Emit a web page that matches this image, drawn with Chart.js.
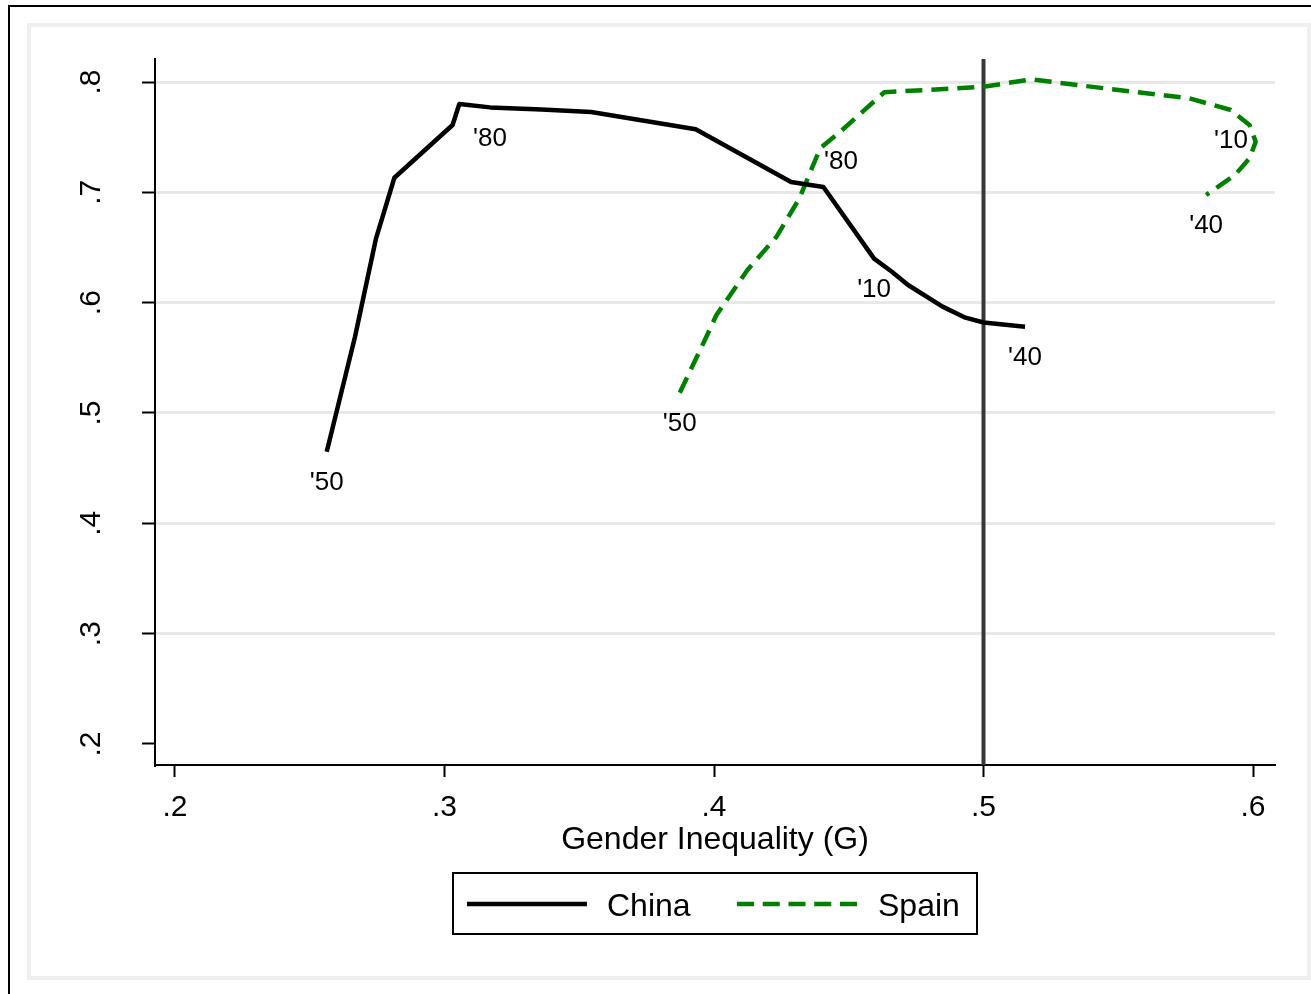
<!DOCTYPE html>
<html>
<head>
<meta charset="utf-8">
<script src="https://cdn.jsdelivr.net/npm/chart.js@4"></script>
<style>
  html, body { margin: 0; padding: 0; background: #fff; }
  #wrap { width: 1311px; height: 994px; }
</style>
</head>
<body>
<div id="wrap"><canvas id="chart" width="1311" height="994"></canvas></div>
<script>
// China path (gender inequality G vs. y)
const chinaG = [0.2563, 0.2668, 0.2746, 0.2814, 0.3030, 0.3055, 0.3169, 0.3360, 0.3544, 0.3932,
  0.4286, 0.4406, 0.4594, 0.4660, 0.4720, 0.4848, 0.4933, 0.5000, 0.5154]
const chinaY = [0.4648, 0.5691, 0.6583, 0.7132, 0.7610, 0.7801, 0.7770, 0.7750, 0.7728, 0.7571,
  0.7093, 0.7048, 0.6399, 0.6280, 0.6160, 0.5964, 0.5864, 0.5820, 0.5782]
const chinaLabelAt = [0, 6, 12, 18]
const chinaLabels = ["'50", "'80", "'10", "'40"]

// Spain path
const spainG = [0.3873, 0.3963, 0.4009, 0.4124, 0.4232, 0.4317, 0.4394, 0.4471, 0.4632, 0.5000,
  0.5177, 0.5377, 0.5764, 0.5918, 0.5987, 0.6010, 0.5987, 0.5933, 0.5826]
const spainY = [0.5183, 0.5646, 0.5888, 0.6296, 0.6598, 0.6946, 0.7399, 0.7555, 0.7907, 0.7957,
  0.8024, 0.7964, 0.7852, 0.7746, 0.7610, 0.7459, 0.7308, 0.7157, 0.6976]
const spainLabelAt = [0, 7, 13, 18]
const spainLabels = ["'50", "'80", "'10", "'40"]

const xTicks = [0.2, 0.3, 0.4, 0.5, 0.6]
const xTickLabels = [".2", ".3", ".4", ".5", ".6"]
const yTicks = [0.2, 0.3, 0.4, 0.5, 0.6, 0.7, 0.8]
const yTickLabels = [".2", ".3", ".4", ".5", ".6", ".7", ".8"]
const refLineG = 0.5
const xTitle = "Gender Inequality (G)"

const FONT = "'Liberation Sans', Arial, sans-serif"
Chart.defaults.font.family = FONT

const toPoints = (xs, ys) => xs.map((x, i) => ({ x: x, y: ys[i] }))

const framePlugin = {
  id: "frame",
  beforeDraw(chart) {
    const ctx = chart.ctx
    ctx.save()
    ctx.fillStyle = "#fff"
    ctx.fillRect(0, 0, chart.width, chart.height)
    ctx.strokeStyle = "#000"
    ctx.lineWidth = 2
    ctx.beginPath()
    ctx.moveTo(9, chart.height + 5)
    ctx.lineTo(9, 6)
    ctx.lineTo(chart.width + 5, 6)
    ctx.stroke()
    ctx.strokeStyle = "#efefef"
    ctx.lineWidth = 4
    ctx.strokeRect(29, 25, 1280, 953)
    ctx.restore()
  }
}

const refLinePlugin = {
  id: "refLine",
  beforeDatasetsDraw(chart) {
    const { ctx, chartArea, scales } = chart
    const px = scales.x.getPixelForValue(refLineG)
    ctx.save()
    ctx.strokeStyle = "#383838"
    ctx.lineWidth = 4
    ctx.beginPath()
    ctx.moveTo(px, chartArea.top)
    ctx.lineTo(px, chartArea.bottom)
    ctx.stroke()
    ctx.restore()
  }
}

const yLabelPlugin = {
  id: "yLabels",
  afterDraw(chart) {
    const ctx = chart.ctx
    const y = chart.scales.y
    ctx.save()
    ctx.fillStyle = "#000"
    ctx.font = "30px " + FONT
    ctx.textAlign = "center"
    ctx.textBaseline = "alphabetic"
    yTicks.forEach((v, i) => {
      ctx.save()
      ctx.translate(100, y.getPixelForValue(v))
      ctx.rotate(-Math.PI / 2)
      ctx.fillText(yTickLabels[i], 0, 0)
      ctx.restore()
    })
    ctx.restore()
  }
}

const pointLabelPlugin = {
  id: "pointLabels",
  afterDatasetsDraw(chart) {
    const ctx = chart.ctx
    const sets = [[chinaG, chinaY, chinaLabelAt, chinaLabels], [spainG, spainY, spainLabelAt, spainLabels]]
    ctx.save()
    ctx.fillStyle = "#000"
    ctx.font = "26px " + FONT
    ctx.textAlign = "center"
    ctx.textBaseline = "middle"
    sets.forEach(([gs, ys, at, txt]) => {
      at.forEach((idx, k) => {
        const px = chart.scales.x.getPixelForValue(gs[idx])
        const py = chart.scales.y.getPixelForValue(ys[idx])
        ctx.fillText(txt[k], px, py + 31)
      })
    })
    ctx.restore()
  }
}

const legendPlugin = {
  id: "boxLegend",
  afterDraw(chart) {
    const ctx = chart.ctx
    const ds = chart.data.datasets
    ctx.save()
    ctx.strokeStyle = "#000"
    ctx.lineWidth = 2
    ctx.strokeRect(453, 873, 524, 61)
    // China sample
    ctx.lineWidth = 4.5
    ctx.strokeStyle = ds[0].borderColor
    ctx.beginPath()
    ctx.moveTo(467, 904)
    ctx.lineTo(587, 904)
    ctx.stroke()
    // Spain sample
    ctx.strokeStyle = ds[1].borderColor
    ctx.setLineDash([17, 8.75])
    ctx.beginPath()
    ctx.moveTo(737, 904)
    ctx.lineTo(857, 904)
    ctx.stroke()
    ctx.setLineDash([])
    ctx.fillStyle = "#000"
    ctx.font = "32px " + FONT
    ctx.textAlign = "left"
    ctx.textBaseline = "alphabetic"
    ctx.fillText(ds[0].label, 607, 916)
    ctx.fillText(ds[1].label, 878, 916)
    ctx.restore()
  }
}

new Chart(document.getElementById("chart"), {
  type: "scatter",
  data: {
    datasets: [
      {
        label: "China",
        data: toPoints(chinaG, chinaY),
        showLine: true,
        borderColor: "#000000",
        borderWidth: 4.5,
        pointRadius: 0,
        tension: 0,
        borderJoinStyle: "round"
      },
      {
        label: "Spain",
        data: toPoints(spainG, spainY),
        showLine: true,
        borderColor: "#008000",
        borderWidth: 4.5,
        borderDash: [17, 9],
        pointRadius: 0,
        tension: 0,
        borderJoinStyle: "round"
      }
    ]
  },
  options: {
    responsive: false,
    animation: false,
    layout: { padding: { left: 0, top: 59, right: 36, bottom: 0 } },
    plugins: {
      legend: { display: false },
      tooltip: { enabled: false }
    },
    scales: {
      x: {
        type: "linear",
        min: 0.19258,
        max: 0.60816,
        afterBuildTicks: (s) => { s.ticks = xTicks.map(v => ({ value: v })) },
        afterFit: (s) => { s.height = 229 },
        border: { color: "#000", width: 2 },
        grid: { drawOnChartArea: false, tickLength: 12, tickWidth: 2, tickColor: "#000" },
        ticks: {
          color: "#000",
          font: { size: 30 },
          padding: 13,
          maxRotation: 0,
          autoSkip: false,
          callback: (v, i) => xTickLabels[i]
        },
        title: {
          display: true,
          text: xTitle,
          color: "#000",
          font: { size: 32 },
          padding: { top: 0, bottom: 135 }
        }
      },
      y: {
        type: "linear",
        min: 0.18096,
        max: 0.82085,
        afterBuildTicks: (s) => { s.ticks = yTicks.map(v => ({ value: v })) },
        afterFit: (s) => { s.width = 155 },
        border: { color: "#000", width: 2 },
        grid: {
          color: (c) => (c.tick && c.tick.value < 0.25 ? "rgba(0,0,0,0)" : "#e8e8e8"),
          lineWidth: 3,
          tickLength: 13,
          tickWidth: 2,
          tickColor: "#000"
        },
        ticks: { display: false }
      }
    }
  },
  plugins: [framePlugin, refLinePlugin, pointLabelPlugin, yLabelPlugin, legendPlugin]
})
</script>
</body>
</html>
